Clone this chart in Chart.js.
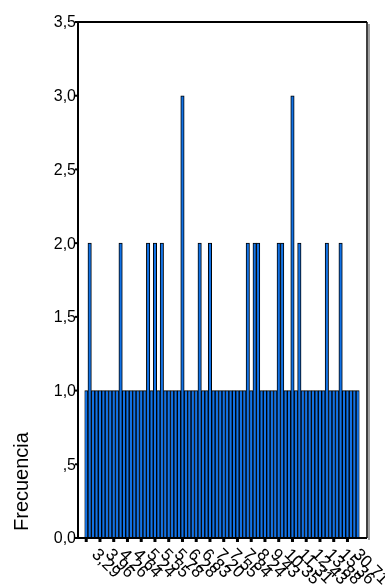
<!DOCTYPE html>
<html>
<head>
<meta charset="utf-8">
<script src="https://cdn.jsdelivr.net/npm/chart.js@4.4.1/dist/chart.umd.min.js"></script>
<style>
  html, body { margin: 0; padding: 0; background: #fff; }
  #wrap { width: 385px; height: 586px; }
</style>
</head>
<body>
<div id="wrap"><canvas id="chart" width="385" height="586"></canvas></div>
<script>
// Histogram-style bar chart: one bar per observed value
const categories = [
    "3,29", "3,45", "3,61", "3,80", "3,96", "4,02", "4,11", "4,19",
    "4,26", "4,35", "4,44", "4,52", "4,64", "4,78", "4,91", "5,07",
    "5,24", "5,31", "5,40", "5,48", "5,55", "5,61", "5,66", "5,72",
    "5,78", "5,89", "6,01", "6,15", "6,28", "6,35", "6,42", "6,50",
    "6,83", "6,87", "6,90", "6,94", "7,20", "7,26", "7,33", "7,41",
    "7,55", "7,60", "7,66", "7,72", "7,84", "7,90", "7,98", "8,07",
    "8,24", "8,46", "8,71", "9,02", "9,43", "9,65", "9,90", "10,12",
    "10,35", "10,58", "10,81", "11,06", "11,31", "11,57", "11,84", "12,10",
    "12,43", "12,80", "13,12", "13,47", "13,88", "14,21", "14,52", "14,96",
    "15,36", "16,20", "17,40", "19,85", "30,71", "31,20", "32,04", "33,15"
];
const frecuencia = [
    1, 2, 1, 1, 1, 1, 1, 1, 1, 1, 2, 1, 1, 1, 1, 1,
    1, 1, 2, 1, 2, 1, 2, 1, 1, 1, 1, 1, 3, 1, 1, 1,
    1, 2, 1, 1, 2, 1, 1, 1, 1, 1, 1, 1, 1, 1, 1, 2,
    1, 2, 2, 1, 1, 1, 1, 1, 2, 2, 1, 1, 3, 1, 2, 1,
    1, 1, 1, 1, 1, 1, 2, 1, 1, 1, 2, 1, 1, 1, 1, 1
];
const yTicks = [0, 0.5, 1, 1.5, 2, 2.5, 3, 3.5];
const yTickLabels = ["0,0", ",5", "1,0", "1,5", "2,0", "2,5", "3,0", "3,5"];
const yTitle = "Frecuencia";
const labelEvery = 4;

// frame, axes and rotated labels drawn the old SPSS way
const spssFrame = {
    id: 'spssFrame',
    afterDraw(chart) {
        const c = chart.ctx;
        const a = chart.chartArea;
        const x = chart.scales.x;
        const y = chart.scales.y;
        const left = a.left - 6.5, right = a.right + 7.5;
        const top = y.getPixelForValue(3.5), bottom = y.getPixelForValue(0);
        c.save();
        // shadow on right side
        c.fillStyle = '#a0a0a0';
        c.fillRect(right + 1, top + 2, 2, bottom - top);
        c.strokeStyle = '#000';
        c.lineWidth = 2;
        c.beginPath();
        c.moveTo(left, bottom + 1);
        c.lineTo(left, top);
        c.lineTo(right, top);
        c.stroke();
        c.lineWidth = 1.5;
        c.beginPath();
        c.moveTo(right, top);
        c.lineTo(right, bottom);
        c.stroke();
        c.lineWidth = 2;
        c.beginPath();
        c.moveTo(left, bottom);
        c.lineTo(right, bottom);
        c.stroke();

        // y ticks
        c.fillStyle = '#000';
        c.font = '16px "Liberation Sans", Arial, sans-serif';
        c.textAlign = 'right';
        c.textBaseline = 'middle';
        yTicks.forEach((v, i) => {
            const py = y.getPixelForValue(v);
            c.fillRect(left - 3, py - 1, 3, 2);
            c.fillText(yTickLabels[i], left - 2, py + 1);
        });

        // x ticks + rotated labels
        c.font = '17px "Liberation Sans", Arial, sans-serif';
        c.textAlign = 'left';
        c.textBaseline = 'middle';
        categories.forEach((lab, i) => {
            if (i % labelEvery !== 0) return;
            const px = x.getPixelForValue(i);
            c.fillRect(px - 1.5, bottom + 1, 3, 3);
            c.save();
            c.translate(px + 8, bottom + 14);
            c.rotate(Math.PI / 4);
            c.fillText(lab, 0, 0);
            c.restore();
        });

        // y title, near the bottom
        c.save();
        c.font = '20px "Liberation Sans", Arial, sans-serif';
        c.translate(22, bottom - 7);
        c.rotate(-Math.PI / 2);
        c.textAlign = 'left';
        c.textBaseline = 'middle';
        c.fillText(yTitle, 0, 0);
        c.restore();
        c.restore();
    }
};

let ctx = document.getElementById('chart').getContext('2d');
let chart = new Chart(ctx, {
    type: 'bar',
    data: {
        labels: categories,
        datasets: [{
            label: yTitle,
            data: frecuencia,
            backgroundColor: '#1172e6',
            borderColor: '#000',
            borderWidth: 1,
            borderSkipped: false,
            barPercentage: 1,
            categoryPercentage: 1
        }]
    },
    options: {
        responsive: false,
        animation: false,
        layout: { padding: { left: 84.5, right: 25.5, top: 22, bottom: 48 } },
        scales: {
            x: { display: false, offset: true },
            y: { display: false, min: 0, max: 3.5 }
        },
        plugins: {
            legend: { display: false },
            tooltip: { enabled: false }
        }
    },
    plugins: [spssFrame]
});
</script>
</body>
</html>
